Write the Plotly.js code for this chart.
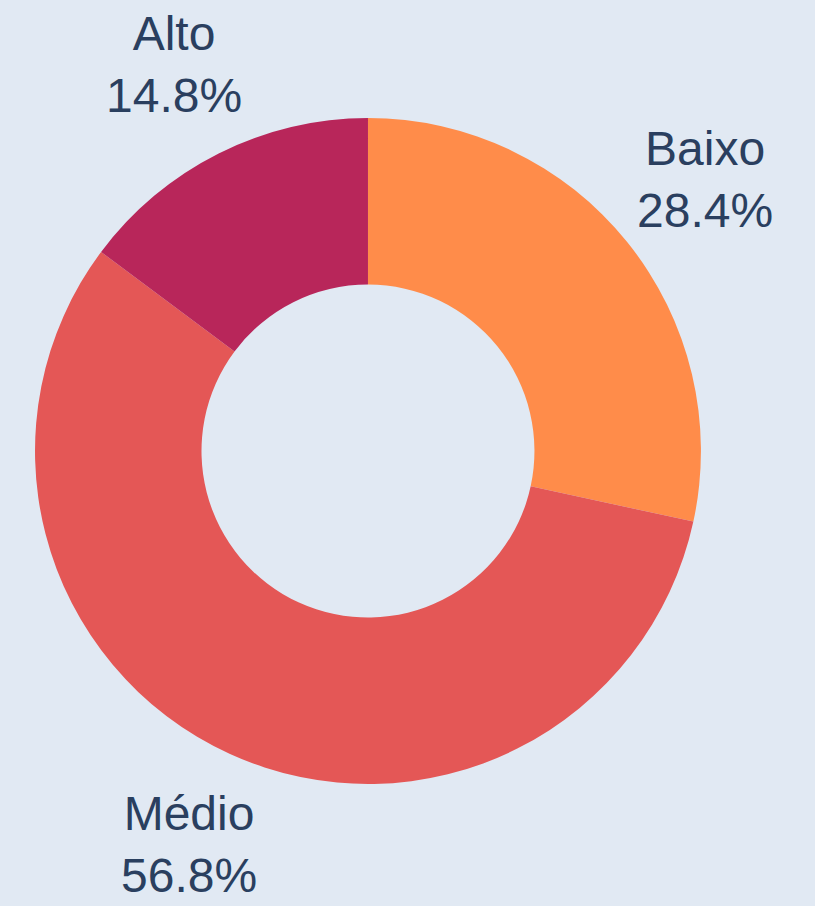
<!DOCTYPE html>
<html>
<head>
<meta charset="utf-8">
<script src="https://cdn.plot.ly/plotly-3.0.1.min.js"></script>
<style>html,body{margin:0;padding:0;background:#E1E9F3;}</style>
</head>
<body>
<div id="chart" style="width:815px;height:906px;"></div>
<script>
const labels = ["Baixo", "Médio", "Alto"];
const values = [28.4, 56.8, 14.8];
const colors = ["#FF8C4A", "#E45756", "#B8265A"];

const W = 815, H = 906;
const domX = [0.0429, 0.8601], domY = [0.1347, 0.8697];
const labelRadiusFactor = 1.3;

const data = [{
  type: "pie",
  labels: labels,
  values: values,
  hole: 0.5,
  sort: false,
  direction: "clockwise",
  rotation: 0,
  textinfo: "none",
  automargin: false,
  marker: {colors: colors, line: {width: 0}},
  domain: {x: domX, y: domY},
  showlegend: false,
  hoverinfo: "label+percent"
}];

// outside labels placed along each slice's mid-angle
const total = values.reduce((a, b) => a + b, 0);
const cxPx = (domX[0] + domX[1]) / 2 * W;
const cyPx = (domY[0] + domY[1]) / 2 * H;
const rPx = Math.min((domX[1] - domX[0]) * W, (domY[1] - domY[0]) * H) / 2;
let cum = 0;
const annotations = values.map((v, i) => {
  const mid = (cum + v / 2) / total * 2 * Math.PI;
  cum += v;
  const lr = rPx * labelRadiusFactor;
  return {
    xref: "paper", yref: "paper",
    x: (cxPx + lr * Math.sin(mid)) / W,
    y: (cyPx + lr * Math.cos(mid)) / H,
    xanchor: "center", yanchor: "middle",
    showarrow: false,
    text: labels[i] + "<br>" + (v / total * 100).toFixed(1) + "%",
    font: {family: "Liberation Sans, Arial, sans-serif", size: 48, color: "#2a3f5f"}
  };
});

const layout = {
  width: W,
  height: H,
  margin: {l: 0, r: 0, t: 0, b: 0},
  paper_bgcolor: "#E1E9F3",
  plot_bgcolor: "#E1E9F3",
  showlegend: false,
  font: {family: "Liberation Sans, Arial, sans-serif", color: "#2a3f5f"},
  annotations: annotations
};

Plotly.newPlot("chart", data, layout, {displayModeBar: false, staticPlot: true});
</script>
</body>
</html>
